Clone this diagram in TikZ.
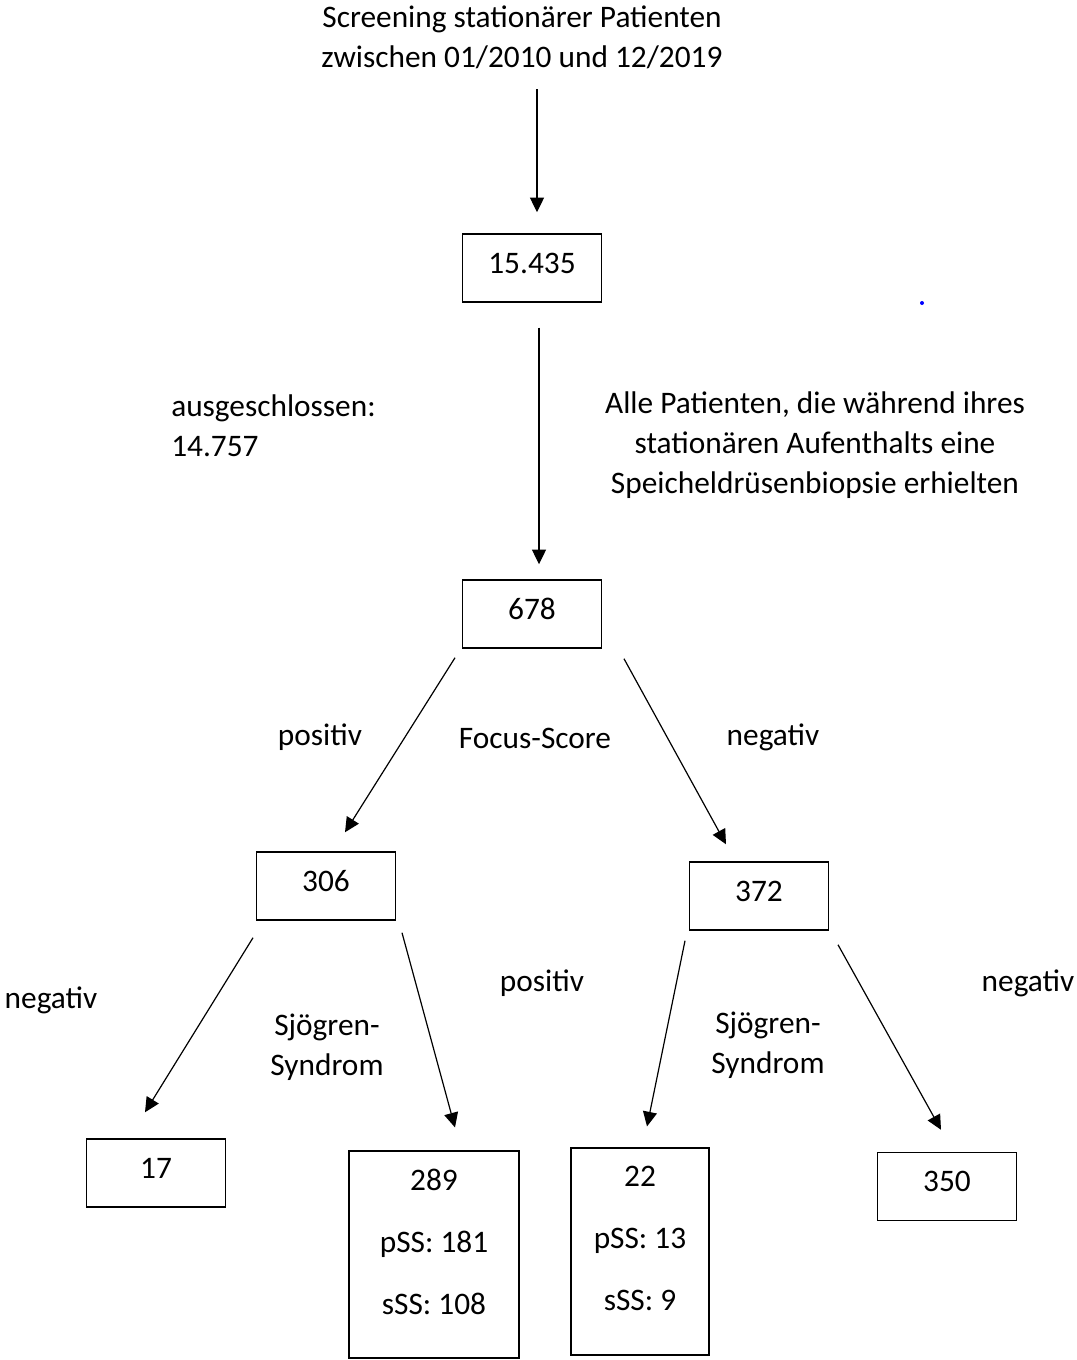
\documentclass[tikz,border=0pt]{standalone}
\usepackage{fontspec}
\setmainfont{Carlito}
\usetikzlibrary{arrows.meta}
\usetikzlibrary{positioning}
\usetikzlibrary{calc}

\begin{document}
\begin{tikzpicture}[x=0.75pt,y=-0.75pt,font=\fontsize{23.5pt}{30pt}\selectfont,
		box/.style={draw,line width=1.1pt,minimum width=104pt,minimum height=51pt,inner sep=0pt,text depth=7.5pt},
		bigbox/.style={box,align=center,minimum width=103.5pt,minimum height=155pt,text depth=19.5pt},
		lbl/.style={inner sep=0pt,align=center},
		arr/.style={line width=0.9pt,-{Triangle[length=11pt,width=10.5pt]}}]
		\useasboundingbox (0,0) rectangle (1076,1360);
		% boxes
		\node[lbl] (title) at (522,37) {Screening stationärer Patienten\\zwischen 01/2010 und 12/2019};
		\node[box] (b15435) at (532,268) {15.435};
		\node[box] (b678) at (532,614) {678};
		\node[box] (b306) at (326,886) {306};
		\node[box] (b372) at (759,896) {372};
		\node[box] (b17) at (156,1173) {17};
		\node[bigbox,minimum width=127.5pt] (b289) at (434,1254.5) {289\\[16.5pt]pSS: 181\\[16.5pt]sSS: 108};
		\node[bigbox] (b22) at (640,1251.5) {22\\[16.5pt]pSS: 13\\[16.5pt]sSS: 9};
		\node[box] (b350) at (947,1186.5) {350};
		% labels
		\node[lbl,anchor=west,align=left] (excl) at (171,426) {ausgeschlossen:\\14.757};
		\node[lbl] (incl) at (815,445) {Alle Patienten, die während ihres\\stationären Aufenthalts eine\\Speicheldrüsenbiopsie erhielten};
		\node[lbl] (pos1) at (320,737) {positiv};
		\node[lbl] (focus) at (535,738) {Focus-Score};
		\node[lbl] (neg1) at (773,737) {negativ};
		\node[lbl] (neg2) at (51,1000) {negativ};
		\node[lbl] (sjo1) at (327,1047) {Sjögren-\\Syndrom};
		\node[lbl] (pos2) at (542,983) {positiv};
		\node[lbl] (sjo2) at (768,1045) {Sjögren-\\Syndrom};
		\node[lbl] (neg3) at (1028,983) {negativ};
		% arrows
		\draw[arr] ($(b15435.north)+(5,-144)$) -- ($(b15435.north)+(5,-21)$);
		\draw[arr] ($(b15435.south)+(7,25)$) -- ($(b678.north)+(7,-15)$);
		\draw[arr] ($(b678.south)+(-77,9)$) -- ($(b306.north)+(19,-19)$);
		\draw[arr] ($(b678.south)+(92,10)$) -- ($(b372.north)+(-33,-17)$);
		\draw[arr] ($(b306.south)+(-73,17)$) -- ($(b17.north)+(-11,-26)$);
		\draw[arr] ($(b306.south)+(76,12)$) -- ($(b289.north)+(21,-23)$);
		\draw[arr] ($(b372.south)+(-74,10)$) -- ($(b22.north)+(7,-21)$);
		\draw[arr] ($(b372.south)+(79,14)$) -- ($(b350.north)+(-6,-22)$);
		\fill[blue] (922,303) circle (2);
	    \end{tikzpicture}
\end{document}
